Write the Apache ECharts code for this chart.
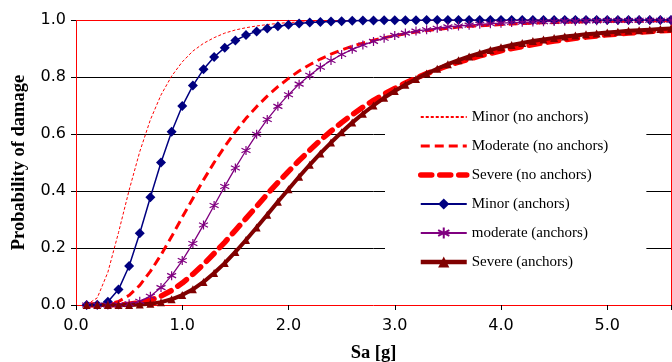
<!DOCTYPE html>
<html>
<head>
<meta charset="utf-8">
<script src="https://cdn.jsdelivr.net/npm/echarts@6/dist/echarts.min.js"></script>
<style>
html, body { margin: 0; padding: 0; background: #fff; }
#main { width: 672px; height: 362px; }
</style>
</head>
<body>
<div id="main"></div>
<script>
// Sa [g] sample points
var sa = [0.1, 0.2, 0.3, 0.4, 0.5, 0.6, 0.7, 0.8, 0.9, 1.0,
	1.1, 1.2, 1.3, 1.4, 1.5, 1.6, 1.7, 1.8, 1.9, 2.0,
	2.1, 2.2, 2.3, 2.4, 2.5, 2.6, 2.7, 2.8, 2.9, 3.0,
	3.1, 3.2, 3.3, 3.4, 3.5, 3.6, 3.7, 3.8, 3.9, 4.0,
	4.1, 4.2, 4.3, 4.4, 4.5, 4.6, 4.7, 4.8, 4.9, 5.0,
	5.1, 5.2, 5.3, 5.4, 5.5, 5.6];

var minorNo = [0.001, 0.025, 0.115, 0.254, 0.403, 0.538, 0.650, 0.737, 0.803, 0.853,
	0.891, 0.918, 0.938, 0.954, 0.965, 0.973, 0.979, 0.984, 0.988, 0.991,
	0.993, 0.994, 0.995, 0.996, 0.997, 0.998, 0.998, 0.999, 0.999, 0.999,
	0.999, 0.999, 0.999, 0.999, 0.999, 1, 1, 1, 1, 1,
	1, 1, 1, 1, 1, 1, 1, 1, 1, 1,
	1, 1, 1, 1, 1, 1];

var moderateNo = [0, 0, 0.003, 0.012, 0.034, 0.069, 0.118, 0.176, 0.240, 0.308,
	0.374, 0.439, 0.500, 0.556, 0.608, 0.655, 0.696, 0.733, 0.766, 0.795,
	0.821, 0.843, 0.863, 0.880, 0.895, 0.908, 0.919, 0.929, 0.938, 0.945,
	0.952, 0.958, 0.963, 0.967, 0.971, 0.975, 0.978, 0.980, 0.982, 0.984,
	0.986, 0.988, 0.989, 0.990, 0.991, 0.992, 0.993, 0.994, 0.995, 0.995,
	0.996, 0.996, 0.996, 0.997, 0.997, 0.997];

var severeNo = [0, 0, 0, 0.001, 0.003, 0.008, 0.017, 0.031, 0.051, 0.077,
	0.108, 0.143, 0.181, 0.220, 0.262, 0.304, 0.346, 0.389, 0.430, 0.469,
	0.507, 0.543, 0.578, 0.610, 0.640, 0.668, 0.694, 0.718, 0.740, 0.760,
	0.779, 0.796, 0.812, 0.826, 0.840, 0.852, 0.863, 0.874, 0.883, 0.892,
	0.900, 0.907, 0.914, 0.920, 0.926, 0.931, 0.936, 0.940, 0.944, 0.948,
	0.951, 0.954, 0.957, 0.960, 0.962, 0.964];

var minorA = [0, 0.001, 0.011, 0.054, 0.137, 0.252, 0.378, 0.500, 0.608, 0.698,
	0.770, 0.827, 0.870, 0.903, 0.928, 0.947, 0.960, 0.970, 0.978, 0.983,
	0.988, 0.991, 0.993, 0.995, 0.996, 0.997, 0.998, 0.998, 0.999, 0.999,
	0.999, 0.999, 1, 1, 1, 1, 1, 1, 1, 1,
	1, 1, 1, 1, 1, 1, 1, 1, 1, 1,
	1, 1, 1, 1, 1, 1];

var moderateA = [0, 0, 0, 0.001, 0.004, 0.013, 0.031, 0.061, 0.103, 0.156,
	0.216, 0.281, 0.349, 0.416, 0.481, 0.542, 0.599, 0.651, 0.697, 0.738,
	0.775, 0.806, 0.834, 0.858, 0.879, 0.897, 0.912, 0.925, 0.936, 0.946,
	0.954, 0.961, 0.966, 0.971, 0.976, 0.979, 0.982, 0.985, 0.987, 0.989,
	0.991, 0.992, 0.993, 0.994, 0.995, 0.996, 0.996, 0.997, 0.997, 0.998,
	0.998, 0.998, 0.999, 0.999, 0.999, 0.999];

var severeA = [0, 0, 0, 0, 0, 0.002, 0.004, 0.010, 0.020, 0.035,
	0.055, 0.081, 0.112, 0.147, 0.186, 0.228, 0.272, 0.317, 0.362, 0.406,
	0.450, 0.492, 0.532, 0.570, 0.606, 0.640, 0.671, 0.700, 0.727, 0.751,
	0.773, 0.793, 0.812, 0.829, 0.845, 0.859, 0.872, 0.884, 0.895, 0.904,
	0.912, 0.919, 0.926, 0.932, 0.937, 0.942, 0.946, 0.950, 0.953, 0.956,
	0.959, 0.962, 0.964, 0.966, 0.968, 0.970];

var names = ['Minor (no anchors)', 'Moderate (no anchors)', 'Severe (no anchors)',
	'Minor (anchors)', 'moderate (anchors)', 'Severe (anchors)'];

function pairs(ys) {
	var out = [];
	for(var i = 0; i < sa.length; i++) {
		out.push([sa[i], ys[i]]);
	}
	return out;
}

// asterisk marker (stroked)
var starPath = 'path://M10 0L10 20M1.5 5L18.5 15M1.5 15L18.5 5';

var tickFont = 'DejaVu Sans';
var serif = 'Liberation Serif';
var hidden = 'rgba(0,0,0,0)';
var noMarker = { color: hidden, borderWidth: 0, opacity: 0 };

// legend entries: the dashed series show only their line, no marker
var legendData = [
	{ name: names[0], itemStyle: noMarker },
	{ name: names[1], itemStyle: noMarker, lineStyle: { width: 3 } },
	{ name: names[2], itemStyle: noMarker, lineStyle: { width: 5.5 } },
	{ name: names[3] },
	{ name: names[4] },
	{ name: names[5], lineStyle: { width: 4.5 } }
];

var option = {
	animation: false,
	backgroundColor: '#fff',
	grid: {
		left: 76,
		right: 1,
		top: 20,
		bottom: 57,
		outerBoundsMode: 'none'
	},
	legend: {
		orient: 'vertical',
		left: 385,
		top: 104,
		z: 1,
		backgroundColor: '#fff',
		padding: [5, 38, 30, 33],
		itemWidth: 46,
		itemHeight: 14,
		itemGap: 13,
		textStyle: {
			fontFamily: serif,
			fontSize: 15,
			lineHeight: 16,
			color: '#000'
		},
		data: legendData
	},
	xAxis: {
		type: 'value',
		min: 0,
		max: 5.6,
		interval: 1,
		name: 'Sa [g]',
		nameLocation: 'middle',
		nameGap: 39,
		nameTextStyle: {
			fontFamily: serif,
			fontWeight: 'bold',
			fontSize: 18.5,
			color: '#000'
		},
		axisLine: { show: false },
		axisTick: { show: true, length: 5, lineStyle: { color: '#000' } },
		axisLabel: {
			margin: 13,
			fontFamily: tickFont,
			fontSize: 16,
			color: '#000',
			formatter: function(v) {
				return Math.abs(v - Math.round(v)) < 1e-6 ? v.toFixed(1) : '';
			}
		},
		splitLine: {
			show: true,
			lineStyle: {
				color: ['#ff0000', hidden, hidden, hidden, hidden, hidden, '#ff0000'],
				width: 1
			}
		}
	},
	yAxis: {
		type: 'value',
		min: 0,
		max: 1,
		interval: 0.2,
		name: 'Probability of damage',
		nameLocation: 'middle',
		nameGap: 47,
		nameTextStyle: {
			fontFamily: serif,
			fontWeight: 'bold',
			fontSize: 18.5,
			color: '#000'
		},
		axisLine: { show: false },
		axisTick: { show: true, length: 5, lineStyle: { color: '#000' } },
		axisLabel: {
			margin: 10,
			fontFamily: tickFont,
			fontSize: 16,
			color: '#000',
			formatter: function(v) {
				return v.toFixed(1);
			}
		},
		splitLine: {
			show: true,
			lineStyle: {
				color: ['#ff0000', '#000', '#000', '#000', '#000', '#ff0000'],
				width: 1
			}
		}
	},
	series: [{
			name: names[0],
			type: 'line',
			symbol: 'none',
			data: pairs(minorNo),
			itemStyle: { color: '#ff0000' },
			lineStyle: { color: '#ff0000', width: 1, type: [3, 2] }
		},
		{
			name: names[1],
			type: 'line',
			symbol: 'none',
			data: pairs(moderateNo),
			itemStyle: { color: '#ff0000' },
			lineStyle: { color: '#ff0000', width: 3, type: [9, 5] }
		},
		{
			name: names[2],
			type: 'line',
			symbol: 'none',
			data: pairs(severeNo),
			itemStyle: { color: '#ff0000' },
			lineStyle: { color: '#ff0000', width: 5.5, type: [11, 8], cap: 'round' }
		},
		{
			name: names[3],
			type: 'line',
			symbol: 'diamond',
			symbolSize: 10,
			data: pairs(minorA),
			itemStyle: { color: '#000080' },
			lineStyle: { color: '#000080', width: 1.5 }
		},
		{
			name: names[4],
			type: 'line',
			symbol: starPath,
			symbolSize: 9,
			data: pairs(moderateA),
			itemStyle: { color: '#800080', borderColor: '#800080', borderWidth: 1.2 },
			lineStyle: { color: '#800080', width: 1.3 }
		},
		{
			name: names[5],
			type: 'line',
			symbol: 'triangle',
			symbolSize: 8,
			data: pairs(severeA),
			itemStyle: { color: '#800000' },
			lineStyle: { color: '#800000', width: 4 }
		}
	]
};

var chart = echarts.init(document.getElementById('main'));
chart.setOption(option);
</script>
</body>
</html>
